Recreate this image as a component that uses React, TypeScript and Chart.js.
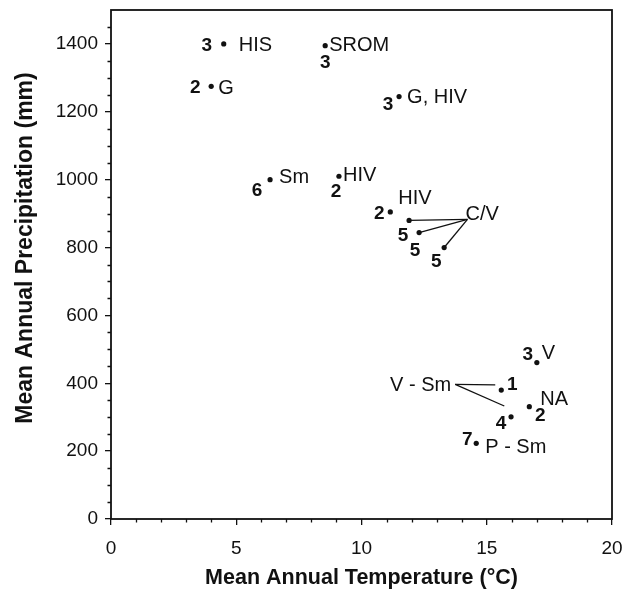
import React, { useEffect, useRef } from 'react';
import { Chart, registerables } from 'chart.js';

Chart.register(...registerables);

// ---- data ----
const temperatureC = [4.5, 8.55, 4.0, 11.5, 6.35, 9.1, 11.15, 11.9, 12.3, 13.3, 17.0, 15.58, 16.7, 15.97, 14.58];
const precipitationMm = [1400, 1395, 1275, 1245, 1000, 1010, 905, 880, 844, 800, 461, 380, 331, 301, 223];
const siteCounts = ['3', '3', '2', '3', '6', '2', '2', '5', '5', '5', '3', '1', '2', '4', '7'];
const siteNames = ['HIS', 'SROM', 'G', 'G, HIV', 'Sm', 'HIV', 'HIV', '', '', '', 'V', '', 'NA', '', 'P - Sm'];

const groupNames = ['C/V', 'V - Sm'];
const groupTemperatureC = [14.23, 13.74];
const groupPrecipitationMm = [883, 397];
const leaderGroup = [0, 0, 0, 1, 1];
const leaderTemperatureC = [11.9, 12.3, 13.3, 15.34, 15.7];
const leaderPrecipitationMm = [880, 844, 800, 395, 333];

const xTickValues = [0, 5, 10, 15, 20];
const xMinorTickValues = [1, 2, 3, 4, 6, 7, 8, 9, 11, 12, 13, 14, 16, 17, 18, 19];
const yTickValues = [0, 200, 400, 600, 800, 1000, 1200, 1400];
const yMinorTickValues = [50, 100, 150, 250, 300, 350, 450, 500, 550, 650, 700, 750, 850, 900, 950, 1050, 1100, 1150, 1250, 1300, 1350, 1450];

const xTitle = 'Mean Annual Temperature (°C)';
const yTitle = 'Mean Annual Precipitation (mm)';

// ---- label placement (pixel offsets from each point; styling only) ----
const countOffset: [number, number][] = [
  [-17, 0], [0, 16], [-16, 0], [-11, 7], [-13, 10], [-3, 14], [-11, 0], [-6, 14], [-4, 17], [-8, 13],
  [-9, -9], [11, -7], [11, 8], [-10, 5], [-9, -5],
];
const nameOffset: [number, number][] = [
  [15, 0], [4, -2], [7, 0], [8, -1], [9, -4], [4, -2], [8, -15], [0, 0], [0, 0], [0, 0],
  [5, -11], [0, 0], [11, -9], [0, 0], [9, 3],
];
const groupOffset: [number, number][] = [[-2, -7], [-4, 0]];
const groupAlign: CanvasTextAlign[] = ['left', 'right'];

const FONT = '"Liberation Sans", Arial, Helvetica, sans-serif';
const INK = '#111';

const annotatePlugin = {
  id: 'annotate',
  afterDatasetsDraw(chart: any) {
    const { ctx, chartArea } = chart;
    const xs = chart.scales.x;
    const ys = chart.scales.y;
    ctx.save();
    // frame
    ctx.strokeStyle = INK;
    ctx.lineWidth = 1.8;
    ctx.strokeRect(chartArea.left, chartArea.top, chartArea.right - chartArea.left, chartArea.bottom - chartArea.top);
    // minor ticks
    ctx.lineWidth = 1.3;
    ctx.beginPath();
    xMinorTickValues.forEach((v) => {
      const px = Math.round(xs.getPixelForValue(v)) + 0.5;
      ctx.moveTo(px, chartArea.bottom);
      ctx.lineTo(px, chartArea.bottom + 3.5);
    });
    yMinorTickValues.forEach((v) => {
      const py = Math.round(ys.getPixelForValue(v)) + 0.5;
      ctx.moveTo(chartArea.left, py);
      ctx.lineTo(chartArea.left - 3.5, py);
    });
    ctx.stroke();

    // labels
    ctx.fillStyle = INK;
    ctx.textBaseline = 'alphabetic';
    const numSize = 19;
    const nameSize = 20;
    temperatureC.forEach((t, i) => {
      const px = xs.getPixelForValue(t);
      const py = ys.getPixelForValue(precipitationMm[i]);
      if (siteCounts[i]) {
        ctx.font = `bold ${numSize}px ${FONT}`;
        ctx.textAlign = 'center';
        ctx.fillText(siteCounts[i], px + countOffset[i][0], py + countOffset[i][1] + numSize * 0.358);
      }
      if (siteNames[i]) {
        ctx.font = `${nameSize}px ${FONT}`;
        ctx.textAlign = 'left';
        ctx.fillText(siteNames[i], px + nameOffset[i][0], py + nameOffset[i][1] + nameSize * 0.358);
      }
    });
    groupNames.forEach((g, i) => {
      const px = xs.getPixelForValue(groupTemperatureC[i]);
      const py = ys.getPixelForValue(groupPrecipitationMm[i]);
      ctx.font = `${nameSize}px ${FONT}`;
      ctx.textAlign = groupAlign[i];
      ctx.fillText(g, px + groupOffset[i][0], py + groupOffset[i][1] + nameSize * 0.358);
    });

    // axis titles
    ctx.textAlign = 'center';
    ctx.textBaseline = 'middle';
    ctx.font = `bold 21.5px ${FONT}`;
    ctx.fillText(xTitle, (chartArea.left + chartArea.right) / 2, 578);
    ctx.font = `bold 23px ${FONT}`;
    ctx.translate(26, 248);
    ctx.rotate(-Math.PI / 2);
    ctx.fillText(yTitle, 0, 0);
    ctx.restore();
  },
};

export default function App() {
  const canvasRef = useRef<HTMLCanvasElement | null>(null);

  useEffect(() => {
    if (!canvasRef.current) return;
    const points = temperatureC.map((t, i) => ({ x: t, y: precipitationMm[i] }));
    const leaderSets = leaderGroup.map((g, i) => ({
      type: 'line' as const,
      data: [
        { x: groupTemperatureC[g], y: groupPrecipitationMm[g] },
        { x: leaderTemperatureC[i], y: leaderPrecipitationMm[i] },
      ],
      showLine: true,
      borderColor: INK,
      borderWidth: 1.3,
      pointRadius: 0,
      fill: false,
    }));

    const chart = new Chart(canvasRef.current, {
      type: 'scatter',
      data: {
        datasets: [
          {
            data: points,
            pointRadius: 2.6,
            pointBackgroundColor: INK,
            pointBorderColor: INK,
            pointBorderWidth: 0,
          } as any,
          ...leaderSets,
        ],
      },
      options: {
        animation: false,
        responsive: true,
        maintainAspectRatio: false,
        layout: { padding: { top: 10, right: 21, left: 0, bottom: 0 } },
        plugins: { legend: { display: false }, tooltip: { enabled: false } },
        scales: {
          x: {
            type: 'linear',
            min: 0,
            max: 20,
            afterBuildTicks: (s: any) => {
              s.ticks = xTickValues.map((v) => ({ value: v }));
            },
            afterFit: (s: any) => {
              s.height = 71;
              s.paddingLeft = 0;
              s.paddingRight = 0;
            },
            grid: { drawOnChartArea: false, drawTicks: true, tickLength: 6, color: INK, lineWidth: 1.3 },
            border: { display: false },
            ticks: { color: INK, padding: 12, maxRotation: 0, font: { family: FONT, size: 19 }, callback: (v: any) => String(v) },
          },
          y: {
            type: 'linear',
            min: 0,
            max: 1500,
            afterBuildTicks: (s: any) => {
              s.ticks = yTickValues.map((v) => ({ value: v }));
            },
            afterFit: (s: any) => {
              s.width = 111;
              s.paddingTop = 0;
              s.paddingBottom = 0;
            },
            grid: { drawOnChartArea: false, drawTicks: true, tickLength: 6, color: INK, lineWidth: 1.3 },
            border: { display: false },
            ticks: { color: INK, padding: 7, font: { family: FONT, size: 19 }, callback: (v: any) => String(v) },
          },
        },
      },
      plugins: [annotatePlugin],
    });
    return () => chart.destroy();
  }, []);

  return (
    <div style={{ position: 'absolute', left: 0, top: 0, width: 633, height: 590, background: '#fff' }}>
      <canvas ref={canvasRef} />
    </div>
  );
}
